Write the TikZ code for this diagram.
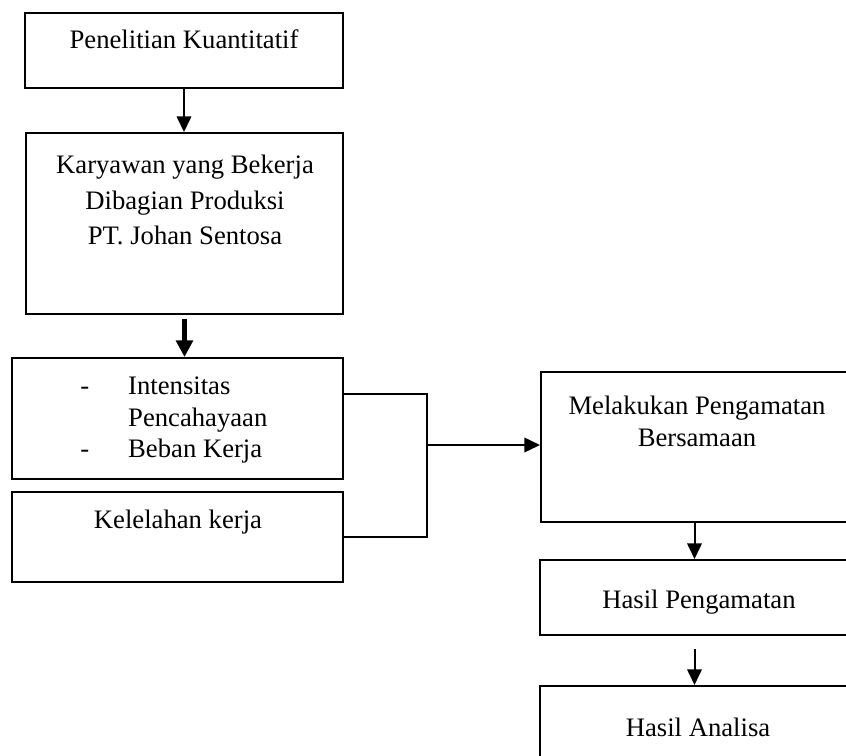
\documentclass[tikz,border=0pt]{standalone}
\usepackage{fontspec}
\setmainfont{Liberation Serif}
\usetikzlibrary{arrows.meta}

\begin{document}
\begin{tikzpicture}[x=0.45pt,y=-0.45pt,
    kotak/.style={draw,line width=0.9pt,inner sep=0pt},
    teks/.style={inner sep=0pt,align=center,font=\fontsize{12}{16}\selectfont},
    panah/.style={line width=0.9pt,-{Triangle[length=7pt,width=6.5pt]}}]
  \useasboundingbox (0,0) rectangle (846,756);
  \clip (0,0) rectangle (846,756);
  % kotak kiri
  \node[kotak,minimum width=143.1pt,minimum height=33.75pt] (b1) at (184,50.5) {};
  \node[kotak,minimum width=142.65pt,minimum height=81.45pt] (b2) at (184.5,223.5) {};
  \node[kotak,minimum width=148.95pt,minimum height=54.45pt] (b3) at (177.5,418.5) {};
  \node[kotak,minimum width=148.95pt,minimum height=40.5pt] (b4) at (177.5,537) {};
  % kotak kanan
  \node[kotak,minimum width=138.6pt,minimum height=67.5pt] (b5) at (695,447) {};
  \node[kotak,minimum width=139.05pt,minimum height=33.75pt] (b6) at (694.5,597.5) {};
  \node[kotak,minimum width=139.05pt,minimum height=33.75pt] (b7) at (694.5,723.5) {};
  % teks
  \node[teks] (t1) at (184,39) {Penelitian Kuantitatif};
  \node[teks] (t2) at (185,200) {Karyawan yang Bekerja\\Dibagian Produksi\\PT. Johan Sentosa};
  \node[teks,anchor=west,font=\fontsize{12}{14.2}\selectfont] (t3) at (80,420)
    {\begin{tabular}{@{}l@{\hspace{17.5pt}}l@{}}-&Intensitas\\&Pencahayaan\\-&Beban Kerja\end{tabular}};
  \node[teks] (t4) at (178,522) {Kelelahan kerja};
  \node[teks,font=\fontsize{12}{14.4}\selectfont] (t5) at (697,421) {Melakukan Pengamatan\\Bersamaan};
  \node[teks] (t6) at (699,602) {Hasil Pengamatan};
  \node[teks] (t7) at (698,727) {Hasil Analisa};
  % panah
  \draw[panah] (b1.south) -- (b1.south |- b2.north);
  \draw[panah,line width=1.8pt,-{Triangle[length=7.5pt,width=7.5pt]}] ([yshift=-1.8pt]b2.south) -- (b2.south |- b3.north);
  \coordinate (ja) at (427,394);
  \coordinate (jb) at (427,537);
  \coordinate (jc) at (427,445);
  \draw[line width=0.9pt] (ja -| b3.east) -- (ja) -- (jb) -- (b4.east);
  \draw[panah] (jc) -- (jc -| b5.west);
  \draw[panah] (b6.north |- b5.south) -- (b6.north);
  \draw[panah] ([yshift=-5.85pt]b6.south) -- (b7.north);
\end{tikzpicture}
\end{document}
